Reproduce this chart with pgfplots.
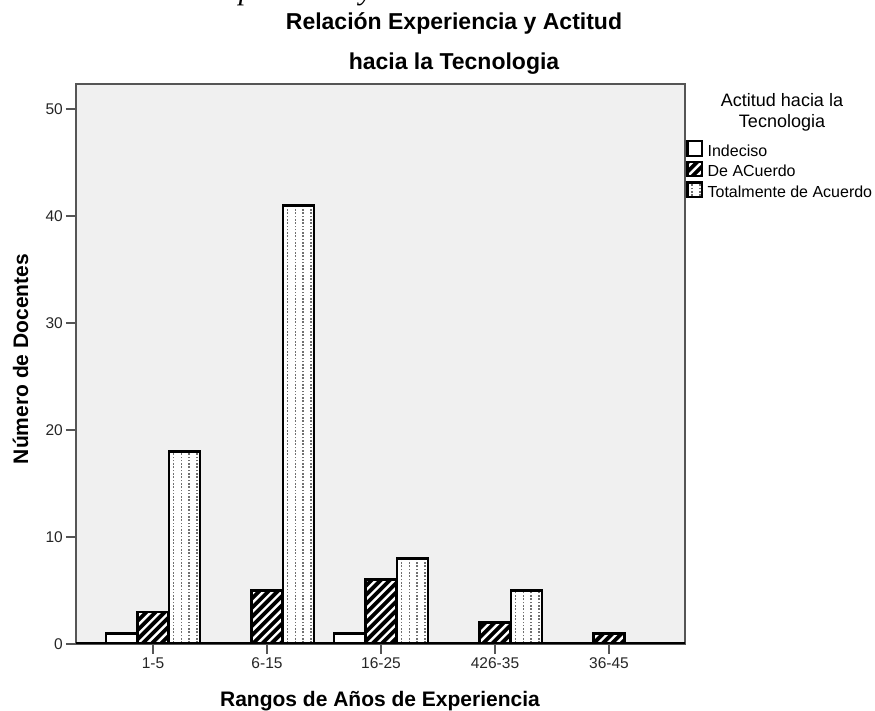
\documentclass[border=0pt]{standalone}
\usepackage{fontspec}
\setmainfont{Liberation Sans}
\newfontfamily\capfont{Liberation Serif}
\usepackage{pgfplots}
\usepackage{pgfplotstable}
\pgfplotsset{compat=1.18}

\definecolor{panel}{HTML}{F0F0F0}
\definecolor{frame}{HTML}{555555}
\definecolor{dotgray}{HTML}{707070}

\tikzset{
  % black bars crossed by white diagonal stripes
  hatchfill/.style={fill=black, path picture={
    \begin{pgfscope}
    \pgfpointanchor{path picture bounding box}{south west}
    \pgfgetlastxy{\swx}{\swy}
    \pgfsetlinewidth{2.4pt}\pgfsetstrokecolor{white}\pgfsetdash{}{0pt}
    \foreach \k in {-70,...,70}{
      \pgfpathmoveto{\pgfpoint{\swx+\k*9.2pt}{\swy}}
      \pgfpathlineto{\pgfpoint{\swx+\k*9.2pt+600pt}{\swy+600pt}}
      \pgfusepath{stroke}
    }
    \end{pgfscope}}},
  % white bars with vertical dotted lines, repeated at every category step
  dotfill/.style={fill=white, path picture={
    \begin{pgfscope}
    \pgfpointanchor{path picture bounding box}{south west}
    \pgfgetlastxy{\swx}{\swy}
    \pgfsetlinewidth{1.4pt}\pgfsetstrokecolor{dotgray}\pgfsetdash{{1.6pt}{1.7pt}}{0pt}
    \foreach \j in {0,...,4}{
      \foreach \k in {0,...,3}{
        \pgfpathmoveto{\pgfpoint{\swx+\j*114pt+4.5pt+\k*7.8pt}{\swy+1pt}}
        \pgfpathlineto{\pgfpoint{\swx+\j*114pt+4.5pt+\k*7.8pt}{\swy+600pt}}
        \pgfusepath{stroke}
      }
    }
    \end{pgfscope}}},
}

% counts per experience range
\pgfplotstableread{
cat indeciso deacuerdo totalmente
0   1        3         18
1   0        5         41
2   1        6         8
3   0        2         5
4   0        1         0
}\datos

\begin{document}
\begin{tikzpicture}[x=1pt,y=1pt]
\clip (0,0) rectangle (875,711);

% caption line above the chart, cut by the page edge
\node[anchor=base west, inner sep=0pt, font=\capfont\itshape\fontsize{30}{34}\selectfont]
  at (212,711.5) {experiencia y actitud};

% chart title
\node[anchor=base, inner sep=0pt, font=\bfseries\fontsize{23}{27}\selectfont]
  at (454,681) {Relación Experiencia y Actitud};
\node[anchor=base, inner sep=0pt, font=\bfseries\fontsize{23}{27}\selectfont]
  at (454,641) {hacia la Tecnologia};

% legend title
\node[anchor=base, inner sep=0pt, font=\fontsize{18}{21}\selectfont]
  at (782,604) {Actitud hacia la};
\node[anchor=base, inner sep=0pt, font=\fontsize{18}{21}\selectfont]
  at (782,583.5) {Tecnologia};

% axis titles
\node[anchor=base, inner sep=0pt, font=\bfseries\fontsize{21}{24}\selectfont]
  at (380,4) {Rangos de Años de Experiencia};
\node[rotate=90, anchor=base, inner sep=0pt, font=\bfseries\fontsize{21}{24}\selectfont]
  at (28,352) {Número de Docentes};

\begin{axis}[
  at={(76pt,67pt)}, anchor=south west,
  scale only axis, width=609pt, height=560pt,
  xmin=-0.6754, xmax=4.6667, ymin=0, ymax=52.34,
  ybar=0.5pt, bar width=31pt,
  xtick={0,1,2,3,4},
  xticklabels={1-5,6-15,16-25,426-35,36-45},
  ytick={0,10,20,30,40,50},
  tick align=outside, xtick pos=bottom, ytick pos=left,
  major tick length=10pt,
  tick style={frame, line width=1.5pt},
  axis line style={frame, line width=1.5pt},
  axis background/.style={fill=panel},
  ticklabel style={font=\fontsize{15.5}{18}\selectfont, text=black!85},
  yticklabel style={inner sep=3pt},
  /pgf/number format/assume math mode=true,
  legend cell align=left,
  legend image code/.code={\draw[#1, line width=2.2pt] (0pt,-3.5pt) rectangle (14.5pt,11pt);},
  legend style={at={(1.002,0.9)}, anchor=north west, draw=none, fill=none,
    font=\fontsize{16}{18}\selectfont, row sep=0pt, inner sep=0pt,
    nodes={text height=11.5pt, text depth=3.5pt, inner sep=1pt},
    /tikz/every odd column/.append style={column sep=3.5pt}},
]
\addplot[draw=black, line width=2.7pt, fill=white]
  table[x=cat, y=indeciso] {\datos};
\addplot[draw=black, line width=2.7pt, hatchfill]
  table[x=cat, y=deacuerdo] {\datos};
\addplot[draw=black, line width=2.7pt, dotfill]
  table[x=cat, y=totalmente] {\datos};
\legend{Indeciso, De ACuerdo, Totalmente de Acuerdo}
% heavy baseline along the value 0
\draw[black, line width=3pt] (rel axis cs:0,0) -- (rel axis cs:1,0);
\end{axis}
\end{tikzpicture}
\end{document}
